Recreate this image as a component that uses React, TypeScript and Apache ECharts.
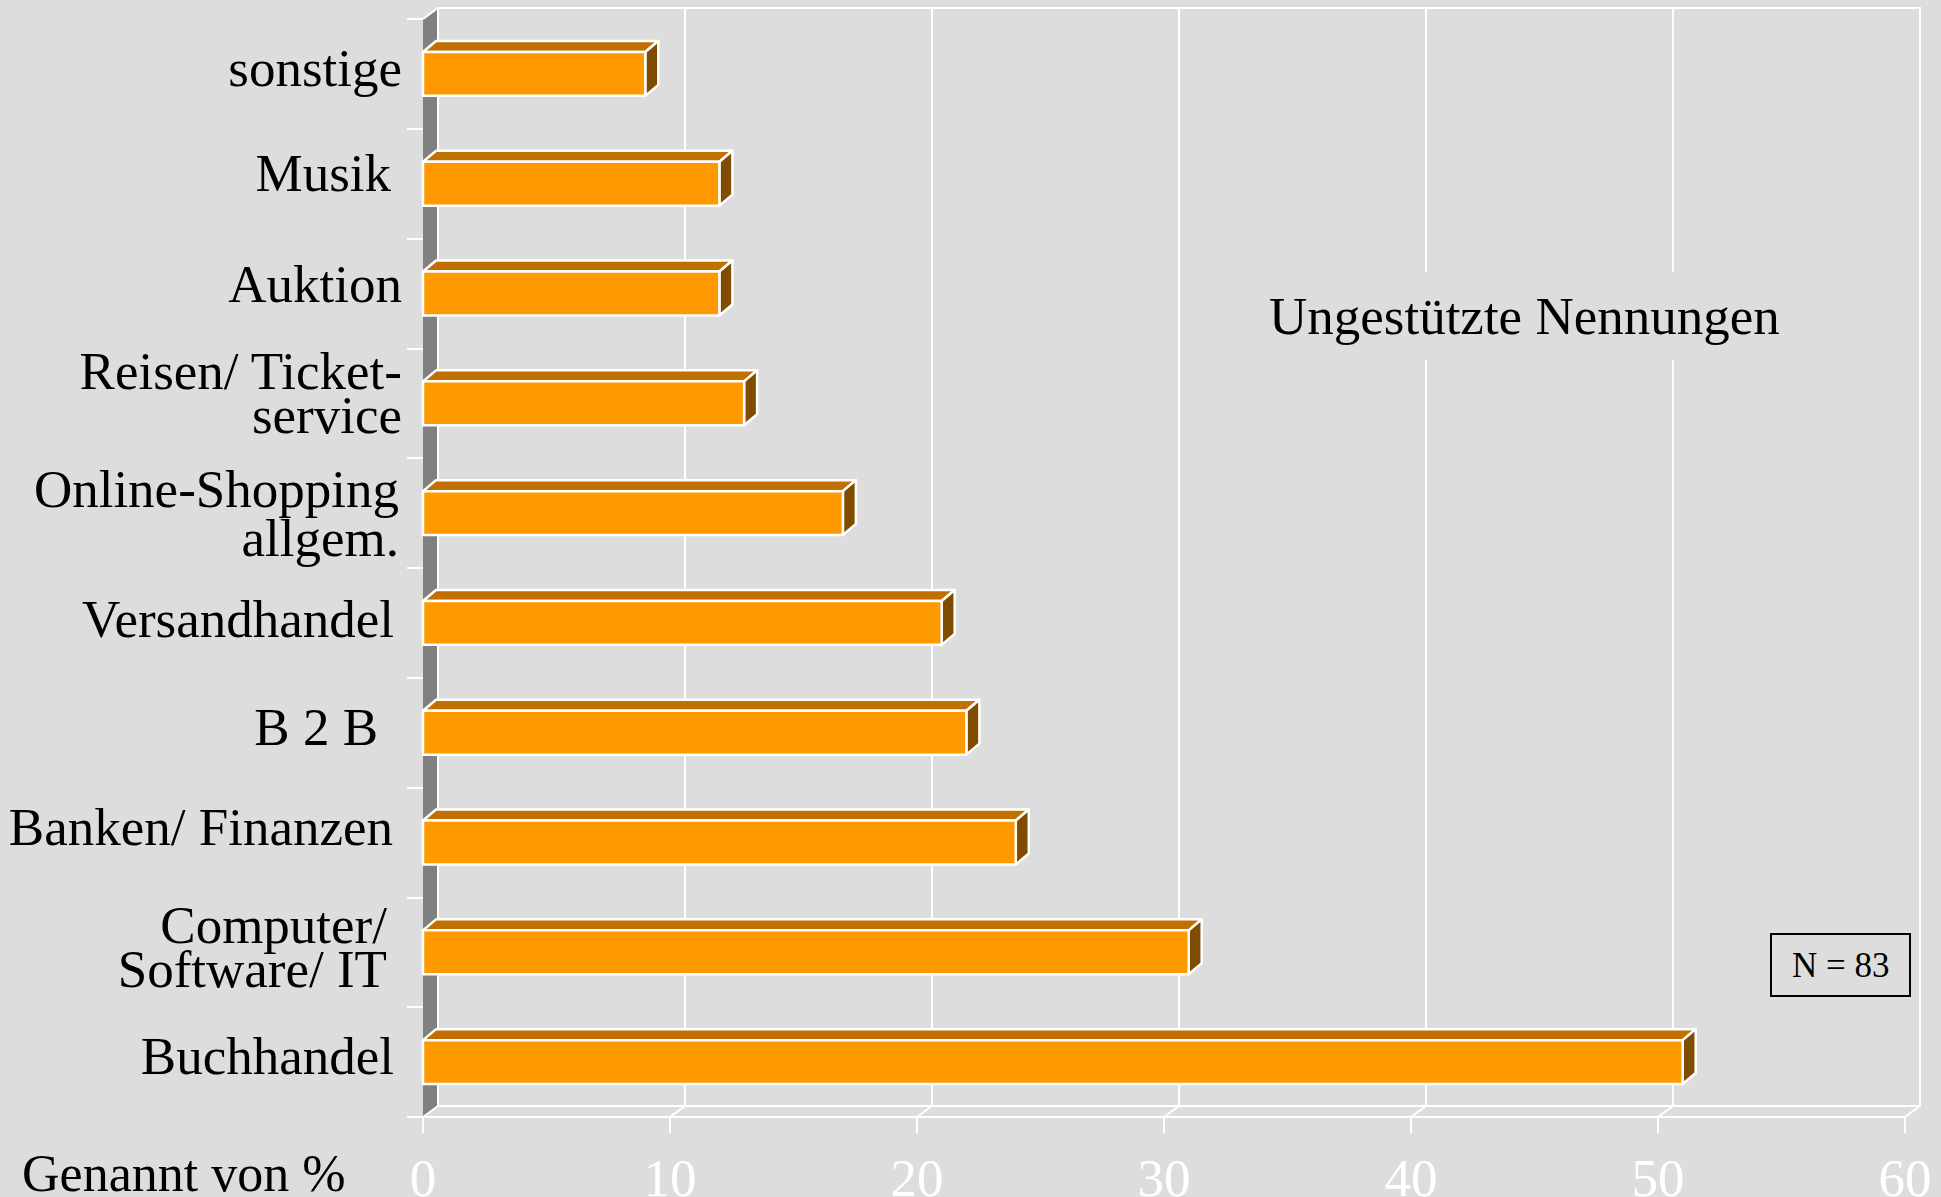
import React, { useEffect, useRef } from 'react';
import * as echarts from 'echarts';

const categories = [
  'sonstige',
  'Musik',
  'Auktion',
  'Reisen/ Ticket-\nservice',
  'Online-Shopping\nallgem.',
  'Versandhandel',
  'B 2 B',
  'Banken/ Finanzen',
  'Computer/\nSoftware/ IT',
  'Buchhandel',
];
const values = [9, 12, 12, 13, 17, 21, 22, 24, 31, 51];
const xTicks = [0, 10, 20, 30, 40, 50, 60];
const chartTitle = 'Ungestützte Nennungen';
const axisTitle = 'Genannt von %';
const sampleNote = 'N = 83';

// label placement styles (the source's text boxes are placed by hand)
const labelIndent = [1, 12, 1, 1, 4, 9, 25, 10, 16, 9];
const labelBaseline = [12, 7.6, 8, 7.7, 18.3, 13.7, 12.3, 2.4, 12.8, 12.1];
const labelLineHeight = [44, 44, 44, 44, 49, 44, 44, 44, 44, 44];

const FONT = '"Liberation Serif", "Times New Roman", Times, serif';
const BG = '#dddddd';
const WALL_DX = 15;
const WALL_DY = 11;
const BAR_DX = 13;
const BAR_DY = 11;
const GRID = { left: 423, right: 36, top: 19, bottom: 80 };
const LABEL_SIZE = 53;
const LABEL_GAP = 20;
const BASELINE_SHIFT = 17.9; // alphabetic baseline below 'middle' for this font size

export default function App() {
  const ref = useRef<HTMLDivElement>(null);

  useEffect(() => {
    if (!ref.current) return;
    const chart = echarts.init(ref.current, undefined, { renderer: 'svg' });
    const white = { stroke: '#ffffff', lineWidth: 2 };

    const option: any = {
      animation: false,
      backgroundColor: BG,
      textStyle: { fontFamily: FONT },
      title: [
        {
          text: chartTitle,
          left: 1259,
          top: 272,
          backgroundColor: BG,
          padding: [14, 10],
          textStyle: { fontFamily: FONT, fontSize: LABEL_SIZE, fontWeight: 'normal', color: '#000', lineHeight: 60 },
          z: 10,
        },
        {
          text: sampleNote,
          left: 1771,
          top: 934,
          backgroundColor: BG,
          borderColor: '#000',
          borderWidth: 2,
          padding: [12, 21],
          textStyle: { fontFamily: FONT, fontSize: 35, fontWeight: 'normal', color: '#000', lineHeight: 38 },
          z: 10,
        },
      ],
      graphic: [
        {
          type: 'text',
          x: 22,
          y: 1173,
          style: { text: axisTitle, fontSize: 52, fontFamily: FONT, fill: '#000', verticalAlign: 'middle' },
        },
      ],
      grid: [
        { ...GRID, outerBoundsMode: 'none', containLabel: false },
        {
          left: GRID.left + WALL_DX,
          right: GRID.right - WALL_DX,
          top: GRID.top - WALL_DY,
          bottom: GRID.bottom + WALL_DY,
          outerBoundsMode: 'none',
          containLabel: false,
          show: true,
          borderColor: '#ffffff',
          borderWidth: 2,
          backgroundColor: 'transparent',
        },
      ],
      xAxis: [
        {
          gridIndex: 0,
          type: 'value',
          min: 0,
          max: 60,
          interval: 10,
          axisLine: { show: true, lineStyle: { color: '#ffffff', width: 2 } },
          axisTick: { show: true, length: 16, lineStyle: { color: '#ffffff', width: 2 } },
          splitLine: { show: false },
          axisLabel: { color: '#ffffff', fontSize: LABEL_SIZE, fontFamily: FONT, margin: 34 },
        },
        {
          gridIndex: 1,
          type: 'value',
          min: 0,
          max: 60,
          interval: 10,
          axisLine: { show: false },
          axisTick: { show: false },
          axisLabel: { show: false },
          splitLine: { show: true, lineStyle: { color: '#ffffff', width: 2 } },
        },
      ],
      yAxis: [
        {
          gridIndex: 0,
          type: 'category',
          data: categories,
          inverse: true,
          axisLine: { show: false },
          axisTick: { show: true, length: 16, lineStyle: { color: '#ffffff', width: 2 } },
          axisLabel: { show: false },
          splitLine: { show: false },
        },
        { gridIndex: 1, type: 'value', show: false, splitLine: { show: false } },
      ],
      series: [
        {
          type: 'custom',
          xAxisIndex: 0,
          yAxisIndex: 0,
          z: 1,
          data: [[0, 0]],
          renderItem: (params: any, api: any) => {
            const cs = params.coordSys;
            const x0 = cs.x;
            const top = cs.y;
            const bot = cs.y + cs.height;
            const children: any[] = [
              {
                type: 'polygon',
                shape: {
                  points: [
                    [x0, top],
                    [x0 + WALL_DX, top - WALL_DY],
                    [x0 + WALL_DX, bot - WALL_DY],
                    [x0, bot],
                  ],
                },
                style: { fill: '#808080' },
              },
              { type: 'line', shape: { x1: x0 + WALL_DX, y1: top - WALL_DY, x2: x0 + WALL_DX, y2: bot - WALL_DY }, style: white },
              { type: 'line', shape: { x1: x0, y1: top, x2: x0 + WALL_DX, y2: top - WALL_DY }, style: white },
            ];
            xTicks.forEach((t) => {
              const px = api.coord([t, 0])[0];
              children.push({
                type: 'line',
                shape: { x1: px, y1: bot, x2: px + WALL_DX, y2: bot - WALL_DY },
                style: white,
              });
            });
            return { type: 'group', children };
          },
        },
        {
          // category labels, anchored to the category axis bands
          type: 'custom',
          xAxisIndex: 0,
          yAxisIndex: 0,
          z: 2,
          silent: true,
          data: categories.map((_, i) => [0, i]),
          renderItem: (params: any, api: any) => {
            const i = params.dataIndex;
            const p = api.coord([0, api.value(1)]);
            return {
              type: 'text',
              x: p[0] - LABEL_GAP - labelIndent[i],
              y: p[1] + labelBaseline[i] - BASELINE_SHIFT,
              style: {
                text: categories[i],
                fontSize: LABEL_SIZE,
                fontFamily: FONT,
                fill: '#000',
                align: 'right',
                verticalAlign: 'middle',
                lineHeight: labelLineHeight[i],
              },
            };
          },
        },
        {
          type: 'custom',
          xAxisIndex: 0,
          yAxisIndex: 0,
          z: 3,
          data: values.map((v, i) => [v, i]),
          renderItem: (params: any, api: any) => {
            const v = api.value(0);
            const c = api.value(1);
            const p0 = api.coord([0, c]);
            const p1 = api.coord([v, c]);
            const band = api.size([0, 1])[1];
            const h = band * 0.4;
            const yT = p0[1] - h / 2;
            const yB = p0[1] + h / 2;
            const x0 = p0[0];
            const x1 = p1[0];
            const stroke = { stroke: '#ffffff', lineWidth: 2.5, lineJoin: 'round' };
            return {
              type: 'group',
              children: [
                {
                  type: 'polygon',
                  shape: {
                    points: [
                      [x0, yT],
                      [x0 + BAR_DX, yT - BAR_DY],
                      [x1 + BAR_DX, yT - BAR_DY],
                      [x1, yT],
                    ],
                  },
                  style: { fill: '#c07000', ...stroke },
                },
                {
                  type: 'polygon',
                  shape: {
                    points: [
                      [x1, yT],
                      [x1 + BAR_DX, yT - BAR_DY],
                      [x1 + BAR_DX, yB - BAR_DY],
                      [x1, yB],
                    ],
                  },
                  style: { fill: '#804c00', ...stroke },
                },
                {
                  type: 'rect',
                  shape: { x: x0, y: yT, width: x1 - x0, height: h },
                  style: { fill: '#ff9900', ...stroke },
                },
              ],
            };
          },
        },
      ],
    };

    chart.setOption(option);
    return () => chart.dispose();
  }, []);

  return (
    <div
      ref={ref}
      style={{ position: 'absolute', left: 0, top: 0, width: 1941, height: 1197 }}
    />
  );
}
